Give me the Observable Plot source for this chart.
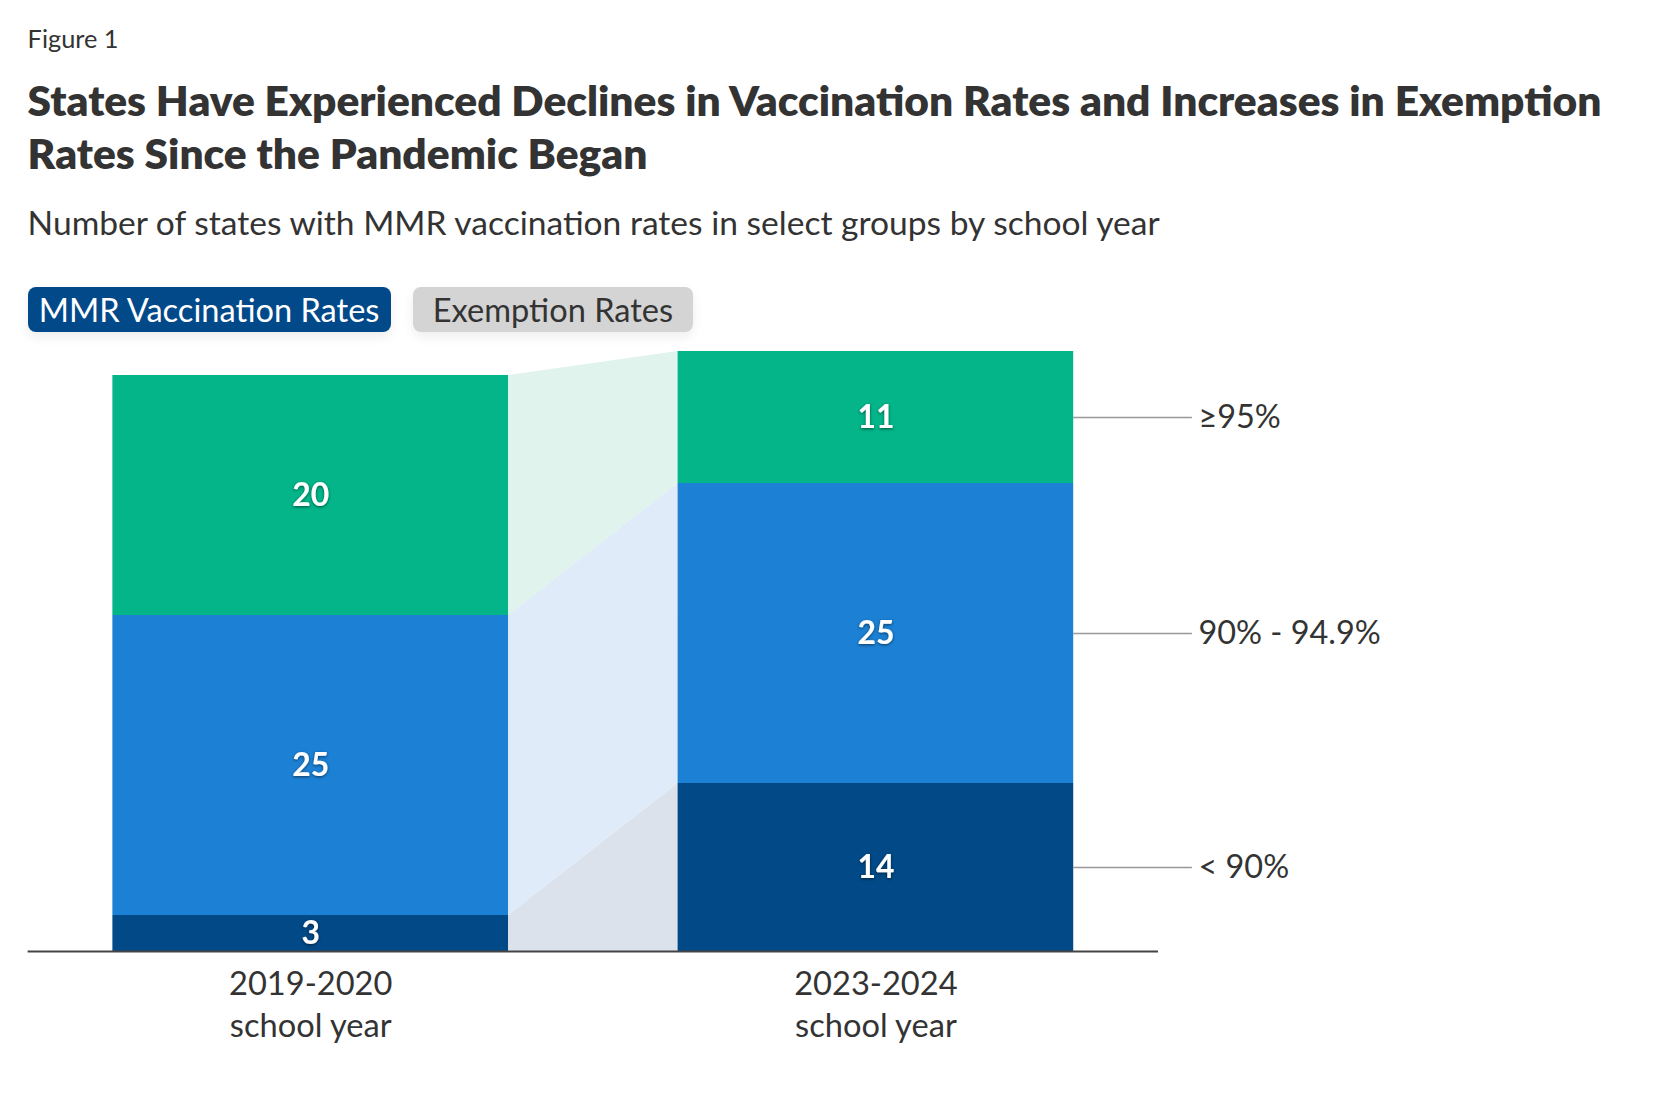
<!DOCTYPE html>
<html><head><meta charset="utf-8">
<script src="https://cdn.jsdelivr.net/npm/d3@7"></script>
<script src="https://cdn.jsdelivr.net/npm/@observablehq/plot@0.6"></script>
<style>
html,body{margin:0;padding:0;background:#fff;}
body{width:1664px;height:1098px;position:relative;overflow:hidden;font-family:Lato,sans-serif;color:#333;}
.abs{position:absolute;white-space:nowrap;line-height:1.2;}
.pill{position:absolute;border-radius:8px;display:flex;align-items:center;justify-content:center;white-space:nowrap;box-shadow:0 5px 12px rgba(0,0,0,0.07);line-height:1.2;}
#chart{position:absolute;left:0;top:340px;}
</style></head><body>
<div id="fig" class="abs"></div>
<div id="t1" class="abs"></div>
<div id="t2" class="abs"></div>
<div id="sub" class="abs"></div>
<div id="lg1" class="pill"></div>
<div id="lg2" class="pill"></div>
<div id="chart"></div>
<script>
// ---- data ----
const figureLabel = "Figure 1";
const titleLines = ["States Have Experienced Declines in Vaccination Rates and Increases in Exemption", "Rates Since the Pandemic Began"];
const subtitle = "Number of states with MMR vaccination rates in select groups by school year";
const legendItems = ["MMR Vaccination Rates", "Exemption Rates"];
const years = ["2019-2020", "2023-2024"];
const yearSuffix = "school year";
const groups = ["< 90%", "90% - 94.9%", "≥95%"];
const counts2019 = [3, 25, 20];
const counts2023 = [14, 25, 11];

// ---- styles ----
const barColors = ["#024a87", "#1c80d4", "#03b589"];
const bandColors = ["#dbe2ec", "#dfebf8", "#e0f3ec"];
const FONT = "Lato";
const TITLE_WEIGHT = 800;

const ctx = document.createElement("canvas").getContext("2d");
function fitSize(text, weight, target) {
  ctx.font = `${weight} 100px ${FONT}`;
  return 100 * target / ctx.measureText(text).width;
}
function place(id, text, weight, size, left, baseline) {
  const el = document.getElementById(id);
  el.textContent = text;
  el.style.fontSize = size + "px";
  el.style.fontWeight = weight;
  ctx.font = `${weight} ${size}px ${FONT}`;
  const m = ctx.measureText("Hg");
  const fa = m.fontBoundingBoxAscent, fd = m.fontBoundingBoxDescent;
  const L = 1.2 * size;
  el.style.left = left + "px";
  el.style.top = (baseline - ((L - (fa + fd)) / 2 + fa)) + "px";
}
const LEFT = 27.6;
const titleSize = fitSize(titleLines[0], TITLE_WEIGHT, 1576);
place("fig", figureLabel, 400, fitSize(figureLabel, 400, 91), LEFT, 48.3);
place("t1", titleLines[0], TITLE_WEIGHT, titleSize, LEFT, 116.5);
place("t2", titleLines[1], TITLE_WEIGHT, titleSize, LEFT, 169.5);
place("sub", subtitle, 400, fitSize(subtitle, 400, 1137), LEFT, 235.5);

const legendSize = fitSize(legendItems[0], 400, 342);
const lg1 = document.getElementById("lg1"), lg2 = document.getElementById("lg2");
lg1.textContent = legendItems[0]; lg2.textContent = legendItems[1];
Object.assign(lg1.style, {left: "27.6px", top: "287.3px", width: "363px", height: "44.4px", background: "#02498a", color: "#fff", fontSize: legendSize + "px"});
Object.assign(lg2.style, {left: "413px", top: "287.3px", width: "280px", height: "44.4px", background: "#d4d4d4", color: "#333", fontSize: legendSize + "px"});

// ---- chart ----
const hw = 0.35;
const table = [];
[counts2019, counts2023].forEach((counts, i) => {
  let c = 0;
  counts.forEach((v, j) => {
    table.push({i, j, year: years[i], group: groups[j], count: v, y1: c, y2: c + v, mid: c + v / 2});
    c += v;
  });
});
const bands = groups.flatMap((g, j) => [0, 1].map(i => {
  const d = table.find(t => t.i === i && t.j === j);
  return {j, group: g, x: i === 0 ? i + hw : i - hw, y1: d.y1, y2: d.y2};
}));
const right = table.filter(d => d.i === 1);
const lineEnd = 1.56;
const tickSize = (fitSize(years[0], 400, 155) + fitSize(yearSuffix, 400, 171)) / 2;
const valueSize = fitSize("20", 700, 37);
const labelSize = fitSize(groups[1], 400, 182.5);

const plot = Plot.plot({
  width: 1664, height: 741,
  marginLeft: 27.6, marginRight: 506, marginTop: 11, marginBottom: 130,
  x: {type: "linear", domain: [-0.5, 1.5], axis: null},
  y: {domain: [0, 50], axis: null},
  color: {type: "identity"},
  style: {fontFamily: FONT, overflow: "visible", background: "transparent", color: "#333"},
  marks: [
    Plot.areaY(bands, {x: "x", y1: "y1", y2: "y2", z: "j", fill: d => bandColors[d.j], curve: "linear"}),
    Plot.rect(table, {x1: d => d.i - hw, x2: d => d.i + hw, y1: "y1", y2: "y2", fill: d => barColors[d.j]}),
    Plot.ruleY([0], {stroke: "#444", strokeWidth: 2}),
    Plot.ruleY(right, {y: "mid", x1: d => d.i + hw, x2: () => lineEnd, stroke: "#999", strokeWidth: 1.5}),
    Plot.text(table, {x: "i", y: "mid", text: d => String(d.count), fill: "white", fontWeight: 700, fontSize: valueSize}),
    Plot.text(right, {x: () => lineEnd, y: "mid", text: "group", textAnchor: "start", dx: 6, fill: "#333", fontSize: labelSize}),
    Plot.text(years.map((y, i) => ({i, label: y + "\n" + yearSuffix})), {x: "i", frameAnchor: "bottom", lineAnchor: "top", dy: 13.5, text: "label", fill: "#333", fontSize: tickSize, lineHeight: 42 / tickSize})
  ]
});
document.getElementById("chart").appendChild(plot);

// soft shadow on the value labels
const svg = d3.select(plot);
const defs = svg.insert("defs", ":first-child");
const f = defs.append("filter").attr("id", "vshadow").attr("x", "-50%").attr("y", "-50%").attr("width", "200%").attr("height", "200%");
f.append("feDropShadow").attr("dx", 0).attr("dy", 1).attr("stdDeviation", 1.5).attr("flood-color", "#000").attr("flood-opacity", 0.55);
svg.selectAll('g[aria-label="text"]').filter((d, k) => k === 0).attr("filter", "url(#vshadow)");
</script>
</body></html>
